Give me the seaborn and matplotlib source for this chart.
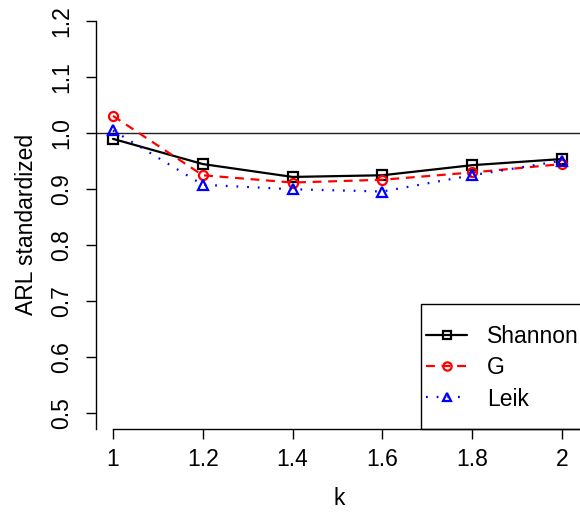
import matplotlib
matplotlib.use("Agg")
import matplotlib.pyplot as plt
from matplotlib.patches import Rectangle
import seaborn as sns
import pandas as pd

# Data
k_values = [1.0, 1.2, 1.4, 1.6, 1.8, 2.0]
shannon = [0.989, 0.944, 0.921, 0.924, 0.942, 0.953]
g_index = [1.030, 0.924, 0.911, 0.916, 0.929, 0.944]
leik = [1.004, 0.907, 0.899, 0.895, 0.924, 0.950]
series_names = ["Shannon", "G", "Leik"]
y_ticks = [0.5, 0.6, 0.7, 0.8, 0.9, 1.0, 1.1, 1.2]
x_ticks = [1.0, 1.2, 1.4, 1.6, 1.8, 2.0]
x_tick_labels = ["1", "1.2", "1.4", "1.6", "1.8", "2"]

df = pd.DataFrame({
    "k": k_values * 3,
    "ARL": shannon + g_index + leik,
    "index": [n for n in series_names for _ in k_values],
})

sns.set_style("ticks")
plt.rcParams["font.family"] = ["Liberation Sans", "DejaVu Sans"]
plt.rcParams["text.color"] = "black"
plt.rcParams["axes.labelcolor"] = "black"

W, H = 580, 513
FS = 16.5
fig = plt.figure(figsize=(W / 100, H / 100), dpi=100)
# axes box in pixels: left 95.7, right 582 (runs past the edge), top 20.7, bottom 429
ax = fig.add_axes([95.7 / W, (H - 429) / H, (582 - 95.7) / W, (429 - 20.7) / H])

palette = {"Shannon": "black", "G": "red", "Leik": "blue"}
markers = {"Shannon": "s", "G": "o", "Leik": "^"}
dashes = {"Shannon": "", "G": (4, 3), "Leik": (0.8, 4)}

ax.axhline(1.0, color="#222222", lw=1.0, zorder=1)

sns.lineplot(data=df, x="k", y="ARL", hue="index", style="index",
             palette=palette, markers=markers, dashes=dashes,
             markersize=6.5, markerfacecolor="none", markeredgewidth=1.6,
             lw=1.6, ax=ax, legend=False, zorder=3)
for line in ax.lines[1:]:
    line.set_markeredgecolor(line.get_color())
    line.set_markerfacecolor("none")

ax.set_xlim(0.9615, 1 + (582 - 113) / 449)
ax.set_ylim(1.2 - (429 - 20.7) / 560, 1.2)

ax.set_yticks(y_ticks)
ax.set_yticklabels([f"{v:.1f}" for v in y_ticks], rotation=90, va="center")
ax.set_xticks(x_ticks)
ax.set_xticklabels(x_tick_labels)
ax.tick_params(axis="both", length=7, width=1, labelsize=FS, color="black",
               labelcolor="black")
ax.tick_params(axis="x", pad=7)
ax.tick_params(axis="y", pad=9)

sns.despine(ax=ax, top=True, right=True)
ax.spines["bottom"].set_bounds(1.0, 2.1)
for s in ["left", "bottom"]:
    ax.spines[s].set_linewidth(1)
    ax.spines[s].set_color("black")

ax.set_xlabel("k", fontsize=FS, labelpad=11)
ax.set_ylabel("ARL standardized", fontsize=FS, labelpad=9)

handles = []
for name in series_names:
    h, = ax.plot([], [], color=palette[name], marker=markers[name],
                 markerfacecolor="none", markersize=6, markeredgewidth=1.6, lw=1.6,
                 linestyle="-" if not dashes[name] else (0, dashes[name]))
    handles.append(h)
leg = ax.legend(handles, series_names, loc="upper left",
                bbox_to_anchor=(426 / W, 1 - 325 / H), bbox_transform=fig.transFigure,
                frameon=False, fontsize=FS, handlelength=1.8, handletextpad=0.87,
                borderpad=0, labelspacing=0.36, borderaxespad=0, numpoints=1)

# legend box in R style, bottom edge resting on the x axis
fig.patches.append(Rectangle((421 / W, (H - 429) / H), (600 - 421) / W, (429 - 304) / H,
                             transform=fig.transFigure, fill=False, edgecolor="black",
                             lw=1, zorder=5))

fig.savefig("out.png", dpi=100)
